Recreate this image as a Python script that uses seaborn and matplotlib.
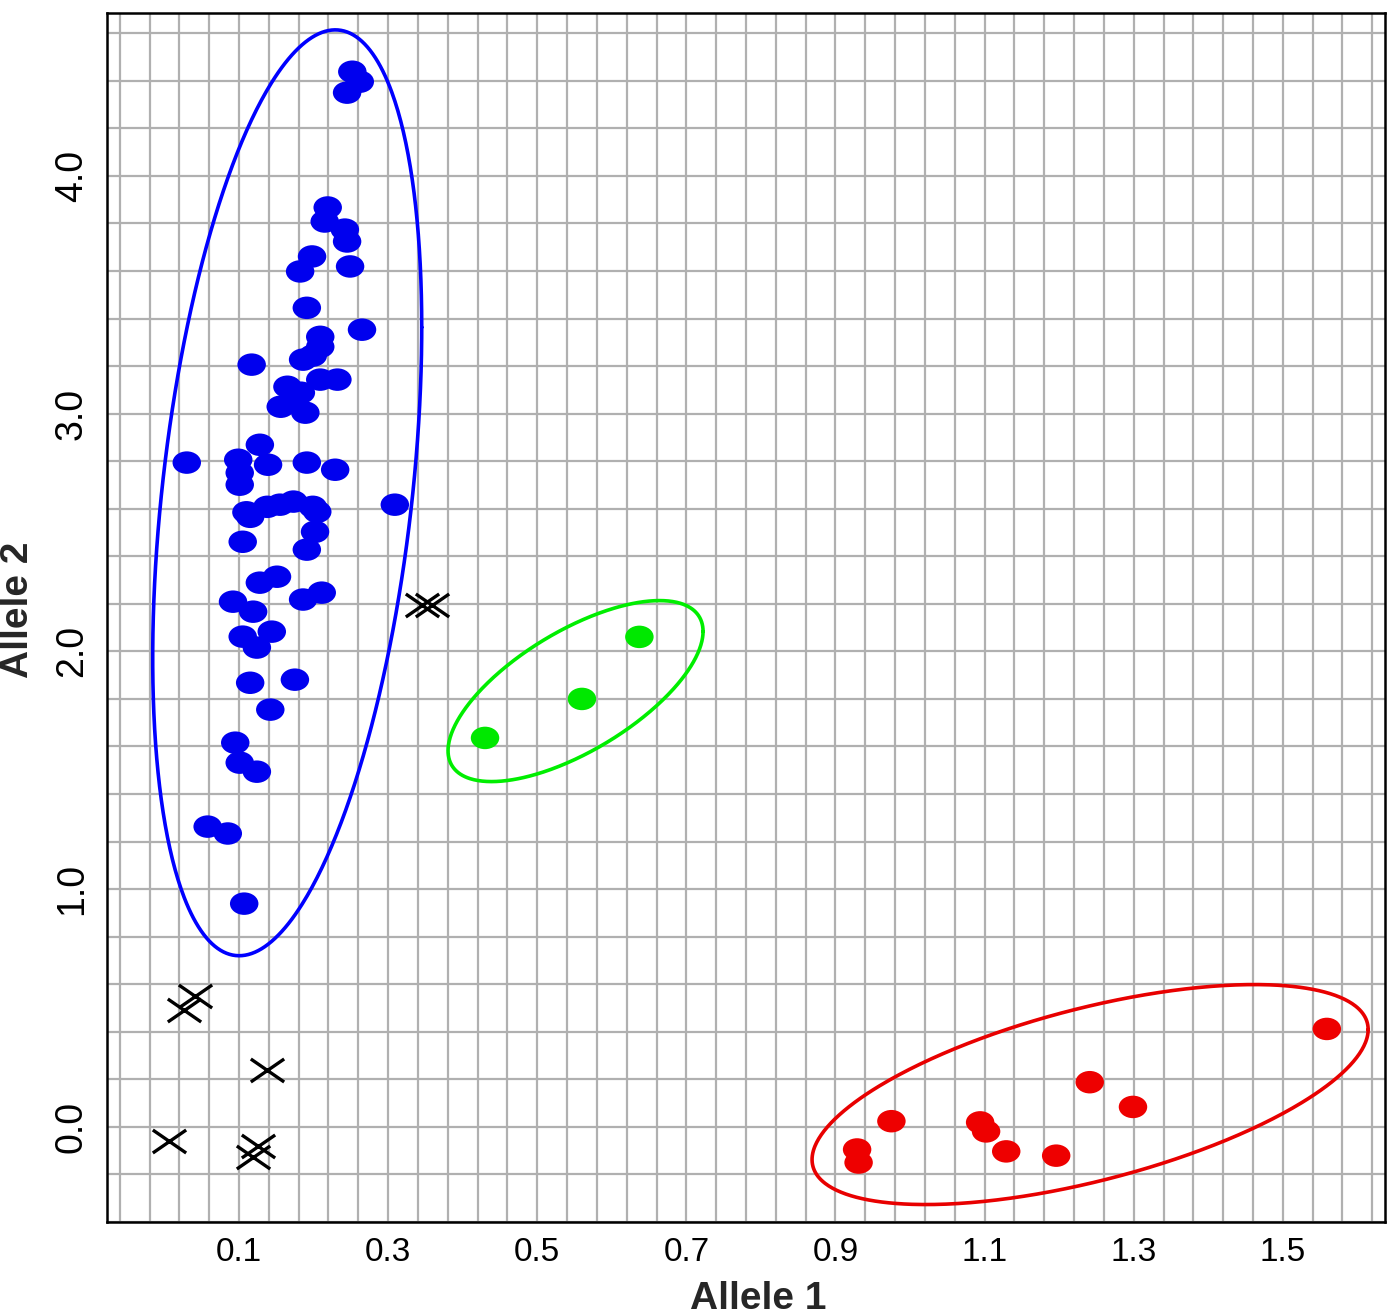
import numpy as np
import pandas as pd
import matplotlib
matplotlib.use("Agg")
import matplotlib.pyplot as plt
from matplotlib.path import Path
from matplotlib.transforms import Affine2D
import seaborn as sns

# ---------------- data ----------------
blue_x = [0.252, 0.262, 0.245, 0.219, 0.215, 0.242, 0.245, 0.198, 0.182, 0.249,
          0.191, 0.265, 0.209, 0.209, 0.117, 0.186, 0.199, 0.209, 0.232, 0.165,
          0.183, 0.156, 0.189, 0.173, 0.128, 0.030, 0.099, 0.101, 0.101, 0.139,
          0.191, 0.229, 0.309, 0.115, 0.138, 0.173, 0.199, 0.205, 0.155, 0.105,
          0.202, 0.191, 0.128, 0.151, 0.092, 0.119, 0.186, 0.211, 0.105, 0.144,
          0.124, 0.115, 0.175, 0.142, 0.095, 0.101, 0.124, 0.058, 0.085, 0.107,
          0.110]
blue_y = [4.438, 4.396, 4.350, 3.867, 3.808, 3.774, 3.724, 3.661, 3.598, 3.619,
          3.445, 3.353, 3.323, 3.281, 3.206, 3.227, 3.244, 3.143, 3.143, 3.113,
          3.088, 3.029, 3.004, 3.058, 2.869, 2.794, 2.806, 2.751, 2.701, 2.785,
          2.794, 2.764, 2.617, 2.566, 2.608, 2.630, 2.608, 2.587, 2.617, 2.461,
          2.503, 2.428, 2.289, 2.314, 2.209, 2.167, 2.218, 2.247, 2.062, 2.083,
          2.016, 1.868, 1.881, 1.755, 1.616, 1.532, 1.494, 1.263, 1.234, 0.939,
          2.585]

green_x = [0.430, 0.560, 0.637]
green_y = [1.636, 1.800, 2.061]

red_x = [0.929, 0.931, 0.975, 1.094, 1.102, 1.129, 1.196, 1.241, 1.299, 1.559]
red_y = [-0.095, -0.150, 0.024, 0.019, -0.019, -0.103, -0.121, 0.188, 0.084, 0.412]

black_x = [0.026, 0.041, 0.137, 0.006, 0.126, 0.119, 0.346, 0.359]
black_y = [0.493, 0.552, 0.241, -0.058, -0.079, -0.125, 2.196, 2.196]

# ellipses: centre, half-extent in x and y, correlation
ell_groups = ["blue", "green", "red"]
ell_cx = [0.1647, 0.5514, 1.2415]
ell_cy = [2.667, 1.833, 0.136]
ell_sx = [0.1804, 0.1710, 0.3729]
ell_sy = [1.947, 0.3806, 0.4626]
ell_r = [0.3575, 0.659, 0.591]

x_major_ticks = [0.1, 0.3, 0.5, 0.7, 0.9, 1.1, 1.3, 1.5]
x_tick_labels = ["0.1", "0.3", "0.5", "0.7", "0.9", "1.1", "1.3", "1.5"]
y_major_ticks = [0.0, 1.0, 2.0, 3.0, 4.0]
y_tick_labels = ["0.0", "1.0", "2.0", "3.0", "4.0"]

x_label = "Allele 1"
y_label = "Allele 2"

dot_colors = {"blue": "#0000EE", "green": "#00E800", "red": "#EE0000"}
ell_colors = {"blue": "#0000FF", "green": "#00EE00", "red": "#E80000"}

# ---------------- styling ----------------
sns.set_style("white")
plt.rcParams["font.family"] = ["Liberation Sans", "DejaVu Sans"]

fig = plt.figure(figsize=(13.91, 13.16), dpi=100)
ax = fig.add_axes([107 / 1391, 1 - 1222 / 1316, 1278 / 1391, 1209 / 1316])

df = pd.DataFrame({
    "x": blue_x + green_x + red_x,
    "y": blue_y + green_y + red_y,
    "group": ["blue"] * len(blue_x) + ["green"] * len(green_x) + ["red"] * len(red_x),
})
df_x = pd.DataFrame({"x": black_x, "y": black_y})

dot_path = Affine2D().scale(1.0, 0.79).transform_path(Path.unit_circle())
xa = 0.69
cross_path = Path([(-1, -xa), (1, xa), (-1, xa), (1, -xa)],
                  [Path.MOVETO, Path.LINETO, Path.MOVETO, Path.LINETO])

sns.scatterplot(data=df, x="x", y="y", hue="group", palette=dot_colors,
                marker=dot_path, s=20.5 ** 2, linewidth=0, edgecolor="none",
                legend=False, ax=ax, zorder=3)
sns.scatterplot(data=df_x, x="x", y="y", marker=cross_path, s=24 ** 2,
                color="black", edgecolor="black", linewidth=2.4,
                legend=False, ax=ax, zorder=3)

t = np.linspace(0, 2 * np.pi, 500)
for g, cx, cy, sx, sy, r in zip(ell_groups, ell_cx, ell_cy, ell_sx, ell_sy, ell_r):
    ex = cx + sx * np.cos(t)
    ey = cy + sy * (r * np.cos(t) + np.sqrt(1 - r * r) * np.sin(t))
    ax.plot(ex, ey, color=ell_colors[g], linewidth=2.6, zorder=4)

ax.set_xlim(-0.077, 1.637)
ax.set_ylim(-0.40, 4.685)

ax.set_xticks(x_major_ticks)
ax.set_xticklabels(x_tick_labels)
ax.set_xticks(np.round(np.arange(-0.06, 1.63, 0.04), 2), minor=True)
ax.set_yticks(y_major_ticks)
ax.set_yticklabels(y_tick_labels, rotation=90, va="center")
ax.set_yticks(np.round(np.arange(-0.4, 4.61, 0.2), 2), minor=True)

grid_col = "#b0b0b0"
ax.set_axisbelow(True)
ax.grid(True, which="both", color=grid_col, linewidth=1.6)

ax.tick_params(axis="x", which="major", length=10.8, width=1.4, color=grid_col,
               labelsize=24, pad=0, labelcolor="black")
ax.tick_params(axis="x", which="minor", length=7.2, width=1.4, color=grid_col)
ax.tick_params(axis="y", which="major", length=17.3, width=1.4, color=grid_col,
               labelsize=27, pad=-5, labelcolor="black")
ax.tick_params(axis="y", which="minor", length=10.5, width=1.4, color=grid_col)

for sp in ax.spines.values():
    sp.set_visible(True)
    sp.set_color("black")
    sp.set_linewidth(1.8)

ax.set_xlabel(x_label, fontsize=28, fontweight="bold")
ax.set_ylabel(y_label, fontsize=28, fontweight="bold")
ax.xaxis.set_label_coords(0.5094, -0.0484)
ax.yaxis.set_label_coords(-0.0552, 0.506)

fig.savefig("out.png", dpi=100)
